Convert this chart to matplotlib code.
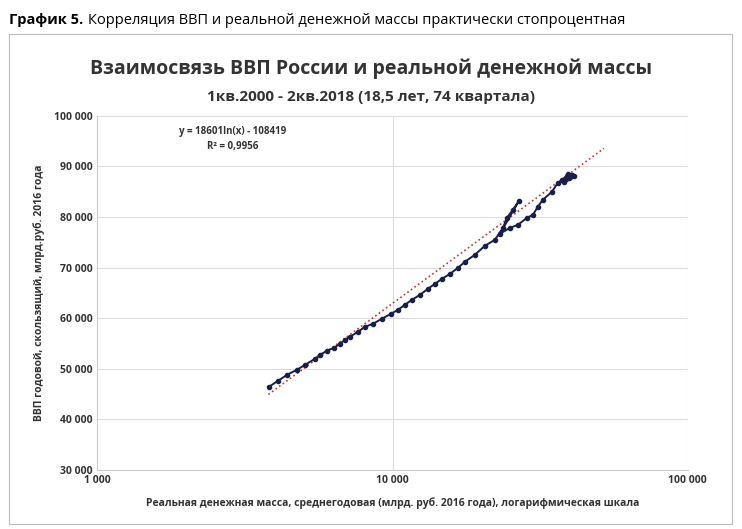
import numpy as np
import matplotlib.pyplot as plt
from matplotlib.ticker import FixedLocator, NullLocator

plt.rcParams['font.family'] = ['Open Sans', 'DejaVu Sans']

# real money supply (bn rub 2016) and rolling GDP (bn rub 2016), quarterly path
money = [3820, 4100, 4400, 4750, 5060, 5470, 5690, 6000, 6340, 6640, 6900, 7180,
         7640, 8070, 8590, 9210, 9890, 10440, 11020, 11640, 12390, 13190, 13930,
         14710, 15660, 16670, 17590, 19010, 20550, 22220,
         23660, 24400, 25570, 26800,
         23110, 25000, 26600, 28520, 29880, 31050, 32270, 34640, 36290,
         37480, 38940, 40480, 38600, 39900, 41150, 39250, 38000, 39600]
gdp = [46420, 47610, 48800, 49780, 50770, 51960, 52750, 53540, 54130, 54920, 55720, 56310,
       57300, 58280, 58880, 59870, 60860, 61650, 62640, 63620, 64610, 65800, 66790,
       67770, 68760, 69950, 71140, 72520, 74300, 75480,
       77860, 79830, 81420, 83200,
       76670, 77860, 78450, 79830, 80430, 82010, 83390, 84970, 86750,
       87350, 88140, 88330, 87550, 87940, 88140, 88530, 86950, 87700]

fit_a, fit_b = 18601, -108419
fit_x = np.geomspace(3800, 52000, 100)

y_ticks = [30000, 40000, 50000, 60000, 70000, 80000, 90000, 100000]
x_ticks = [1000, 10000, 100000]

def fmt(v):
    return f'{v:,}'.replace(',', ' ')

fig = plt.figure(figsize=(7.42, 5.29), dpi=100)
fig.text(0.012, 0.975, 'График 5.', fontsize=10.5, fontweight='bold', va='top')
fig.text(0.118, 0.975, 'Корреляция ВВП и реальной денежной массы практически стопроцентная',
         fontsize=10.5, va='top')
frame = plt.Rectangle((0.012, 0.01), 0.975, 0.925, transform=fig.transFigure,
                      fill=False, ec='#bbbbbb', lw=0.8)
fig.add_artist(frame)
fig.text(0.5, 0.86, 'Взаимосвязь ВВП России и реальной денежной массы', ha='center',
         fontsize=14, fontweight='bold', color='#333333')
fig.text(0.5, 0.81, '1кв.2000 - 2кв.2018 (18,5 лет, 74 квартала)', ha='center',
         fontsize=11, fontweight='bold', color='#333333')

ax = fig.add_axes([0.131, 0.112, 0.796, 0.669])
ax.set_xscale('log')
ax.set_xlim(1000, 100000)
ax.set_ylim(30000, 100000)
ax.xaxis.set_major_locator(FixedLocator(x_ticks))
ax.xaxis.set_minor_locator(NullLocator())
ax.set_xticks(x_ticks, [fmt(v) for v in x_ticks])
ax.set_yticks(y_ticks, [fmt(v) for v in y_ticks])
ax.tick_params(labelsize=7.5, length=0, colors='#333333')
for t in ax.get_xticklabels() + ax.get_yticklabels():
    t.set_fontweight('bold')
ax.grid(True, color='#dddddd', lw=0.8)
ax.set_axisbelow(True)
for s in ['top', 'right']:
    ax.spines[s].set_visible(False)
for s in ['left', 'bottom']:
    ax.spines[s].set_color('#cccccc')

ax.plot(fit_x, fit_a * np.log(fit_x) + fit_b, ':', color='#c0392b', lw=1.2)
ax.plot(money, gdp, '-o', color='#1a1f4a', lw=1.4, ms=3)

ax.text(0.23, 0.905, 'y = 18601ln(x) - 108419\nR² = 0,9956', transform=ax.transAxes,
        ha='center', fontsize=7, fontweight='bold', color='#333333', linespacing=1.5)
ax.set_xlabel('Реальная денежная масса, среднегодовая (млрд. руб. 2016 года), логарифмическая шкала',
              fontsize=7.5, fontweight='bold', color='#333333', labelpad=8)
ax.set_ylabel('ВВП годовой, скользящий, млрд.руб. 2016 года', fontsize=7.5,
              fontweight='bold', color='#333333', labelpad=6)

fig.savefig('out.png', dpi=100)
